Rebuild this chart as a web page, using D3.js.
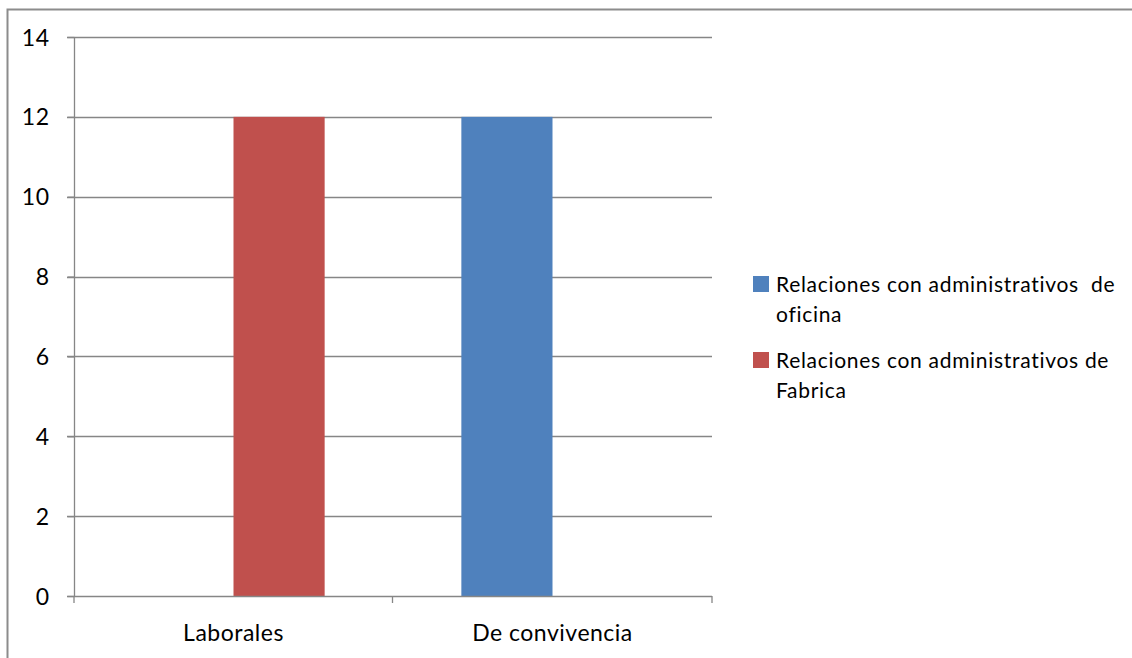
<!DOCTYPE html>
<html><head><meta charset="utf-8">
<script src="https://cdn.jsdelivr.net/npm/d3@7"></script>
<style>body{margin:0;background:#fff}svg{display:block}text{font-family:Lato,"Liberation Sans",sans-serif;fill:#000}</style>
</head><body>
<svg id="c" width="1132" height="658"></svg>
<script>
const categories = ["Laborales", "De convivencia"];
const seriesNames = ["Relaciones con administrativos de oficina", "Relaciones con administrativos de Fabrica"];
const oficinaValues = [0, 12];
const fabricaValues = [12, 0];
const yTicks = [0, 2, 4, 6, 8, 10, 12, 14];
const legendLines = [["Relaciones con administrativos  de", "oficina"], ["Relaciones con administrativos de", "Fabrica"]];
const colors = ["#4F81BD", "#C0504D"];

const svg = d3.select("#c");
svg.append("rect").attr("x", 7.5).attr("y", 9.5).attr("width", 1300).attr("height", 700)
  .attr("fill", "#fff").attr("stroke", "#8c8c8c").attr("stroke-width", 2);

const x0 = d3.scaleBand().domain(categories).range([74, 712]).paddingInner(0).paddingOuter(0);
const x1 = d3.scaleBand().domain(seriesNames).range([0, x0.bandwidth()]).paddingInner(0).paddingOuter(0.75);
const y = d3.scaleLinear().domain([0, 14]).range([596, 37]);

// gridlines
svg.append("g").selectAll("line").data(yTicks.filter(d => d > 0)).join("line")
  .attr("x1", 67).attr("x2", 712).attr("y1", d => Math.round(y(d)) + 0.5).attr("y2", d => Math.round(y(d)) + 0.5)
  .attr("stroke", "#868686").attr("stroke-width", 1.3);

const data = categories.map((c, i) => ({c, vals: [oficinaValues[i], fabricaValues[i]]}));
svg.append("g").selectAll("g").data(data).join("g")
  .attr("transform", d => `translate(${x0(d.c)},0)`)
  .selectAll("rect").data(d => d.vals.map((v, j) => ({s: seriesNames[j], v, j}))).join("rect")
  .attr("x", d => x1(d.s)).attr("width", x1.bandwidth())
  .attr("y", d => y(d.v)).attr("height", d => y(0) - y(d.v))
  .attr("fill", d => colors[d.j]);

// y axis
const ya = svg.append("g").attr("transform", "translate(74.5,0)")
  .call(d3.axisLeft(y).tickValues(yTicks).tickSize(7).tickPadding(18).tickFormat(d3.format("d")));
ya.select(".domain").attr("stroke", "#868686").attr("stroke-width", 1.3).attr("d", `M0,${y(14)}V${y(0)}`);
ya.selectAll(".tick line").attr("stroke", "#868686").attr("stroke-width", 1.3);
ya.selectAll("text").style("font-size", "23px").style("letter-spacing", "0.5px").attr("dy", "0.35em");

// x axis
const xa = svg.append("g").attr("transform", `translate(0,${y(0) + 0.5})`)
  .call(d3.axisBottom(x0).tickSize(0).tickPadding(28));
xa.select(".domain").attr("stroke", "#868686").attr("stroke-width", 1.3).attr("d", "M67,0H712");
xa.selectAll("text").style("font-size", "23px").style("letter-spacing", "0.5px");
svg.append("g").selectAll("line").data([74, 392.5, 712]).join("line")
  .attr("x1", d => d).attr("x2", d => d).attr("y1", y(0)).attr("y2", y(0) + 7)
  .attr("stroke", "#868686").attr("stroke-width", 1.3);

// legend
const lg = svg.append("g");
legendLines.forEach((lines, i) => {
  const top = 276 + i * 76;
  lg.append("rect").attr("x", 753).attr("y", top).attr("width", 16).attr("height", 16).attr("fill", colors[i]);
  const t = lg.append("text").attr("x", 776).attr("y", top + 16).style("font-size", "21px")
    .style("letter-spacing", "0.7px").attr("xml:space", "preserve");
  lines.forEach((l, k) => t.append("tspan").attr("x", 776).attr("y", top + 16 + k * 30).text(l));
});
</script>
</body></html>
